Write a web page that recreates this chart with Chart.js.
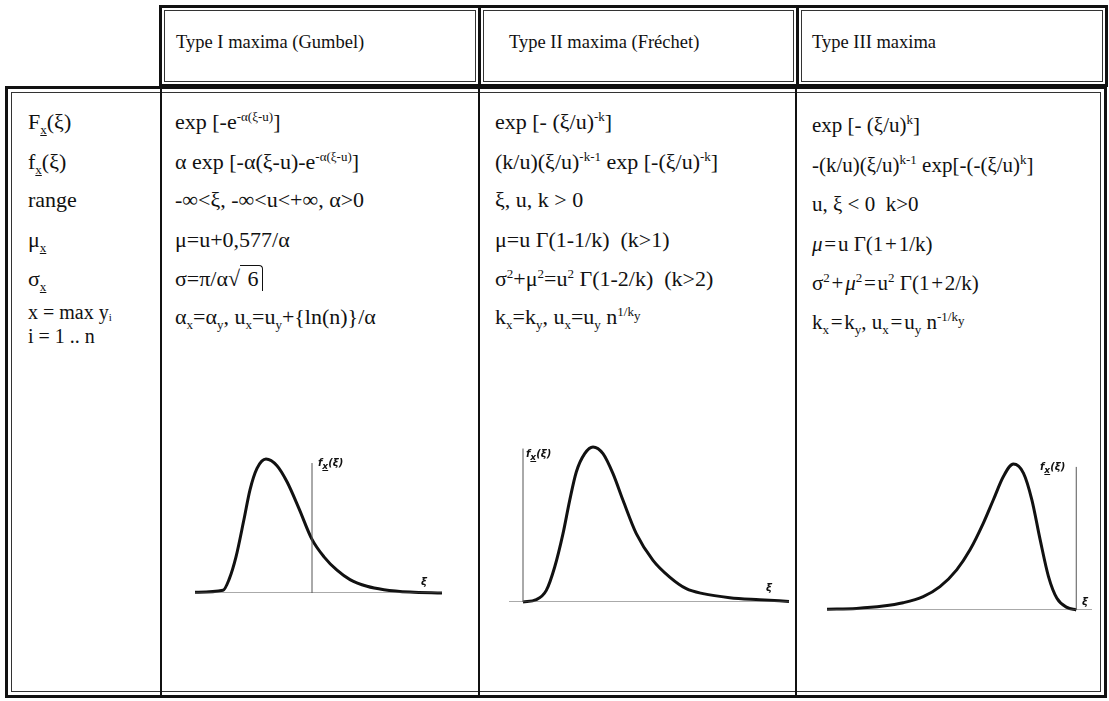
<!DOCTYPE html>
<html>
<head>
<meta charset="utf-8">
<script src="https://cdn.jsdelivr.net/npm/chart.js@4/dist/chart.umd.min.js"></script>
<style>
  body { margin: 0; background: #fff; }
  #page { position: relative; width: 1109px; height: 701px; overflow: hidden;
          font-family: "Liberation Serif", "Times New Roman", serif; color: #111; }
  .hbox { position: absolute; top: 5px; height: 82px; border: 3px solid #111; box-sizing: border-box; }
  .hbox::after { content: ""; position: absolute; left: 2px; top: 2px; right: 2px; bottom: 2px; border: 1px solid #333; }
  .frame { position: absolute; left: 5px; top: 86px; width: 1102px; height: 612px; border: 3px solid #111; box-sizing: border-box; }
  .frame::after { content: ""; position: absolute; left: 3px; top: 3px; right: 3px; bottom: 3px; border: 1px solid #333; }
  .vline { position: absolute; top: 86px; height: 611px; width: 2px; background: #111; }
  .head { position: absolute; top: 31px; font-size: 18.5px; line-height: 22px; white-space: nowrap; }
  .t { position: absolute; font-size: 22px; line-height: 22px; white-space: nowrap; }
  .t.c3 { font-size: 21px; }
  .t.small { font-size: 20px; }
  .t sub, .t sup { font-size: 13px; line-height: 0; }
  .t sub sub { font-size: 10px; }
  .t sub.low { font-size: 11px; vertical-align: -2px; }
  .ul { text-decoration: underline; text-decoration-thickness: 1px; text-underline-offset: 1px; }
  .root { border-top: 1px solid #111; padding-left: 2px; padding-right: 3px; border-right: 1px solid #111;
          border-top-right-radius: 4px; }
  canvas { position: absolute; }
  .lbl { position: absolute; font-family: "DejaVu Sans", sans-serif; font-weight: bold; font-style: italic;
         font-size: 10px; line-height: 12px; white-space: nowrap; color: #111; }
  .lbl sub { font-size: 9px; line-height: 0; }
</style>
</head>
<body>
<div id="page">
  <div class="hbox" style="left:159px;width:322px"></div>
  <div class="hbox" style="left:478px;width:321px"></div>
  <div class="hbox" style="left:796px;width:312px"></div>
  <div class="head" style="left:176px">Type I maxima (Gumbel)</div>
  <div class="head" style="left:509px">Type II maxima (Fréchet)</div>
  <div class="head" style="left:812px">Type III maxima</div>

  <div class="frame"></div>
  <div class="vline" style="left:160px"></div>
  <div class="vline" style="left:478px"></div>
  <div class="vline" style="left:795px"></div>

  <!-- row labels -->
  <div class="t" style="left:28px;top:111px">F<sub class="ul">x</sub>(ξ)</div>
  <div class="t" style="left:28px;top:151px">f<sub class="ul">x</sub>(ξ)</div>
  <div class="t" style="left:28px;top:189px">range</div>
  <div class="t" style="left:28px;top:229px">μ<sub class="ul">x</sub></div>
  <div class="t" style="left:28px;top:268px">σ<sub class="ul">x</sub></div>
  <div class="t small" style="left:28px;top:301px">x = max y<sub class="low">i</sub></div>
  <div class="t small" style="left:28px;top:325px">i = 1 .. n</div>

  <!-- Gumbel -->
  <div class="t" style="left:175px;top:111px">exp [-e<sup>-α(ξ-u)</sup>]</div>
  <div class="t" style="left:175px;top:151px">α exp [-α(ξ-u)-e<sup>-α(ξ-u)</sup>]</div>
  <div class="t" style="left:175px;top:189px">-∞&lt;ξ, -∞&lt;u&lt;+∞, α&gt;0</div>
  <div class="t" style="left:175px;top:229px">μ=u+0,577/α</div>
  <div class="t" style="left:175px;top:268px">σ=π/α√<span class="root"> 6</span></div>
  <div class="t" style="left:175px;top:306px">α<sub>x</sub>=α<sub>y</sub>, u<sub>x</sub>=u<sub>y</sub>+{ln(n)}/α</div>

  <!-- Fréchet -->
  <div class="t" style="left:495px;top:111px">exp [- (ξ/u)<sup>-k</sup>]</div>
  <div class="t" style="left:495px;top:151px">(k/u)(ξ/u)<sup>-k-1</sup> exp [-(ξ/u)<sup>-k</sup>]</div>
  <div class="t" style="left:495px;top:189px">ξ, u, k &gt; 0</div>
  <div class="t" style="left:495px;top:229px">μ=u Γ(1-1/k)&nbsp; (k&gt;1)</div>
  <div class="t" style="left:495px;top:268px">σ<sup>2</sup>+μ<sup>2</sup>=u<sup>2</sup> Γ(1-2/k)&nbsp; (k&gt;2)</div>
  <div class="t" style="left:495px;top:306px">k<sub>x</sub>=k<sub>y</sub>, u<sub>x</sub>=u<sub>y</sub> n<sup>1/k<sub>y</sub></sup></div>

  <!-- Type III -->
  <div class="t c3" style="left:812px;top:114px">exp [- (ξ/u)<sup>k</sup>]</div>
  <div class="t c3" style="left:812px;top:154px">-(k/u)(ξ/u)<sup>k-1</sup> exp[-(-(ξ/u)<sup>k</sup>]</div>
  <div class="t c3" style="left:812px;top:193px">u, ξ &lt; 0&nbsp; k&gt;0</div>
  <div class="t c3" style="left:812px;top:233px"><i>μ</i>&#8202;=&#8202;u Γ(1&#8202;+&#8202;1/k)</div>
  <div class="t c3" style="left:812px;top:272px">σ<sup>2</sup>&#8202;+&#8202;<i>μ</i><sup>2</sup>&#8202;=&#8202;u<sup>2</sup> Γ(1&#8202;+&#8202;2/k)</div>
  <div class="t c3" style="left:812px;top:311px">k<sub>x</sub>&#8202;=&#8202;k<sub>y</sub>, u<sub>x</sub>&#8202;=&#8202;u<sub>y</sub> n<sup>-1/k<sub>y</sub></sup></div>

  <canvas id="gumbel" width="253" height="140" style="left:192px;top:456px"></canvas>
  <canvas id="frechet" width="286" height="161" style="left:506px;top:444px"></canvas>
  <canvas id="type3" width="271" height="152" style="left:824px;top:461px"></canvas>

  <div class="lbl" style="left:318px;top:457px">f<sub style="text-decoration:underline">x</sub>(ξ)</div>
  <div class="lbl" style="left:421px;top:576px">ξ</div>
  <div class="lbl" style="left:526px;top:448px">f<sub style="text-decoration:underline">x</sub>(ξ)</div>
  <div class="lbl" style="left:766px;top:582px">ξ</div>
  <div class="lbl" style="left:1040px;top:461px">f<sub style="text-decoration:underline">x</sub>(ξ)</div>
  <div class="lbl" style="left:1082px;top:596px">ξ</div>
</div>

<script>
// density sketches, f relative to its peak, ξ in arbitrary units (0 = f axis)
const gumbelXi = [-11.7, -8.9, -8.3, -7.6, -6.8, -6.2, -5.5, -4.6, -3.5, -2.5, -1.3, 0, 1.2, 2.5, 3.8, 5.5, 7.2, 9.8, 13.0];
const gumbelF  = [0.005, 0.02, 0.10, 0.27, 0.55, 0.77, 0.93, 1.0, 0.95, 0.83, 0.63, 0.40, 0.27, 0.17, 0.10, 0.05, 0.025, 0.007, 0];
const gumbelRange = [-11.7, 13.0];
const gumbelAxisTop = 0.97;

const frechetXi = [0, 1.33, 2.33, 3.17, 4.0, 4.67, 5.33, 6.17, 7.0, 8.0, 9.0, 10.0, 11.33, 13.0, 14.67, 16.33, 18.0, 20.67, 23.67, 26.6];
const frechetF  = [0, 0.015, 0.075, 0.226, 0.441, 0.656, 0.839, 0.957, 1.0, 0.957, 0.828, 0.656, 0.441, 0.269, 0.161, 0.086, 0.054, 0.028, 0.015, 0.004];
const frechetRange = [-1.4, 26.6];
const frechetAxisTop = 0.99;

const type3Xi = [-24.87, -21.93, -19.27, -17.27, -15.27, -13.6, -11.93, -10.6, -9.27, -8.27, -7.27, -6.27, -5.27, -4.43, -3.6, -2.77, -1.93, -0.93, 0];
const type3F  = [0.005, 0.011, 0.027, 0.05, 0.092, 0.16, 0.275, 0.412, 0.595, 0.755, 0.915, 1.0, 0.938, 0.755, 0.48, 0.229, 0.08, 0.018, 0];
const type3Range = [-24.87, 1.57];
const type3AxisTop = 0.98;

function pts(xs, ys) {
  return xs.map((x, i) => ({ x: x, y: ys[i] }));
}

function drawCurve(id, xs, ys, range, axisTop) {
  const ctx = document.getElementById(id);
  new Chart(ctx, {
    type: 'line',
    data: {
      datasets: [
        {
          data: [{ x: range[0], y: 0 }, { x: range[1], y: 0 }],
          borderColor: '#555',
          borderWidth: 1,
          pointRadius: 0
        },
        {
          data: [{ x: 0, y: 0 }, { x: 0, y: axisTop }],
          borderColor: '#555',
          borderWidth: 1,
          pointRadius: 0
        },
        {
          data: pts(xs, ys),
          borderColor: '#111',
          borderWidth: 3,
          pointRadius: 0,
          cubicInterpolationMode: 'monotone',
          clip: false
        }
      ]
    },
    options: {
      responsive: false,
      animation: false,
      events: [],
      layout: { padding: 3 },
      plugins: { legend: { display: false }, tooltip: { enabled: false } },
      scales: {
        x: { type: 'linear', min: range[0], max: range[1], display: false },
        y: { min: 0, max: 1, display: false }
      }
    }
  });
}

drawCurve('gumbel', gumbelXi, gumbelF, gumbelRange, gumbelAxisTop);
drawCurve('frechet', frechetXi, frechetF, frechetRange, frechetAxisTop);
drawCurve('type3', type3Xi, type3F, type3Range, type3AxisTop);
</script>
</body>
</html>
